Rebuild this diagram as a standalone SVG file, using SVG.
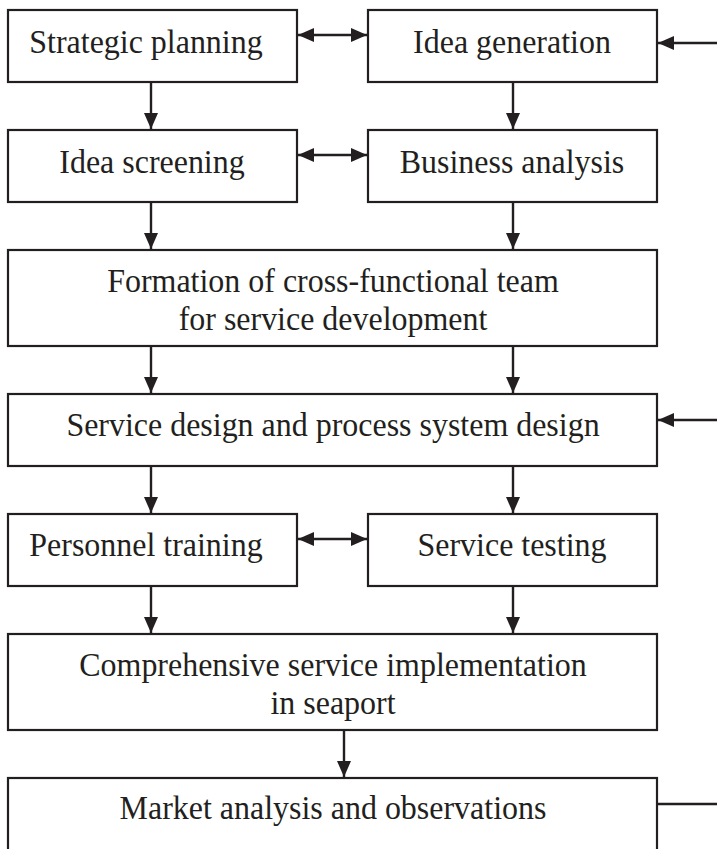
<svg xmlns="http://www.w3.org/2000/svg" width="717" height="849" viewBox="0 0 717 849">
  <style>
    .box { fill: #fff; stroke: #231f20; stroke-width: 2.2; }
    .lbl { font-family: "Liberation Serif", "Times New Roman", serif; font-size: 34px; fill: #231f20; text-anchor: middle; }
    .con { stroke: #231f20; stroke-width: 2.4; fill: none; }
  </style>
  <defs>
    <marker id="ah" viewBox="0 0 16 14" refX="16" refY="7" markerWidth="16" markerHeight="14" markerUnits="userSpaceOnUse" orient="auto-start-reverse">
      <path d="M0,0 L16,7 L0,14 Z" fill="#231f20"/>
    </marker>
  </defs>
  <rect width="717" height="849" fill="#fff"/>

  <g id="connectors">
    <!-- horizontal two-way links -->
    <line class="con" x1="298" y1="35" x2="367" y2="35" marker-start="url(#ah)" marker-end="url(#ah)"/>
    <line class="con" x1="298" y1="155" x2="367" y2="155" marker-start="url(#ah)" marker-end="url(#ah)"/>
    <line class="con" x1="298" y1="539" x2="367" y2="539" marker-start="url(#ah)" marker-end="url(#ah)"/>
    <!-- feedback inputs from the right -->
    <line class="con" x1="717" y1="43" x2="658" y2="43" marker-end="url(#ah)"/>
    <line class="con" x1="717" y1="420" x2="658" y2="420" marker-end="url(#ah)"/>
    <line class="con" x1="657" y1="804" x2="717" y2="804"/>
    <!-- vertical flow -->
    <line class="con" x1="151" y1="82" x2="151" y2="129" marker-end="url(#ah)"/>
    <line class="con" x1="513" y1="82" x2="513" y2="129" marker-end="url(#ah)"/>
    <line class="con" x1="151" y1="202" x2="151" y2="249" marker-end="url(#ah)"/>
    <line class="con" x1="513" y1="202" x2="513" y2="249" marker-end="url(#ah)"/>
    <line class="con" x1="151" y1="346" x2="151" y2="393" marker-end="url(#ah)"/>
    <line class="con" x1="513" y1="346" x2="513" y2="393" marker-end="url(#ah)"/>
    <line class="con" x1="151" y1="466" x2="151" y2="513" marker-end="url(#ah)"/>
    <line class="con" x1="513" y1="466" x2="513" y2="513" marker-end="url(#ah)"/>
    <line class="con" x1="151" y1="586" x2="151" y2="633" marker-end="url(#ah)"/>
    <line class="con" x1="513" y1="586" x2="513" y2="633" marker-end="url(#ah)"/>
    <line class="con" x1="344" y1="730" x2="344" y2="777" marker-end="url(#ah)"/>
  </g>

  <!-- labels are set slightly condensed (scaleX 0.94) -->
  <g id="strategic-planning">
    <rect class="box" x="8" y="10" width="289" height="72"/>
    <text class="lbl" transform="translate(146,53) scale(0.94,1)">Strategic planning</text>
  </g>
  <g id="idea-generation">
    <rect class="box" x="368" y="10" width="289" height="72"/>
    <text class="lbl" transform="translate(512,53) scale(0.94,1)">Idea generation</text>
  </g>
  <g id="idea-screening">
    <rect class="box" x="8" y="130" width="289" height="72"/>
    <text class="lbl" transform="translate(152,173) scale(0.94,1)">Idea screening</text>
  </g>
  <g id="business-analysis">
    <rect class="box" x="368" y="130" width="289" height="72"/>
    <text class="lbl" transform="translate(512,173) scale(0.94,1)">Business analysis</text>
  </g>
  <g id="team-formation">
    <rect class="box" x="8" y="250" width="649" height="96"/>
    <text class="lbl" transform="translate(333,292) scale(0.94,1)">Formation of cross-functional team</text>
    <text class="lbl" transform="translate(333,330) scale(0.94,1)">for service development</text>
  </g>
  <g id="service-design">
    <rect class="box" x="8" y="394" width="649" height="72"/>
    <text class="lbl" transform="translate(333,436) scale(0.94,1)">Service design and process system design</text>
  </g>
  <g id="personnel-training">
    <rect class="box" x="8" y="514" width="289" height="72"/>
    <text class="lbl" transform="translate(146,556) scale(0.94,1)">Personnel training</text>
  </g>
  <g id="service-testing">
    <rect class="box" x="368" y="514" width="289" height="72"/>
    <text class="lbl" transform="translate(512,556) scale(0.94,1)">Service testing</text>
  </g>
  <g id="implementation">
    <rect class="box" x="8" y="634" width="649" height="96"/>
    <text class="lbl" transform="translate(333,676) scale(0.94,1)">Comprehensive service implementation</text>
    <text class="lbl" transform="translate(333,714) scale(0.94,1)">in seaport</text>
  </g>
  <g id="market-analysis">
    <rect class="box" x="8" y="778" width="649" height="90"/>
    <text class="lbl" transform="translate(333,819) scale(0.94,1)">Market analysis and observations</text>
  </g>
</svg>
